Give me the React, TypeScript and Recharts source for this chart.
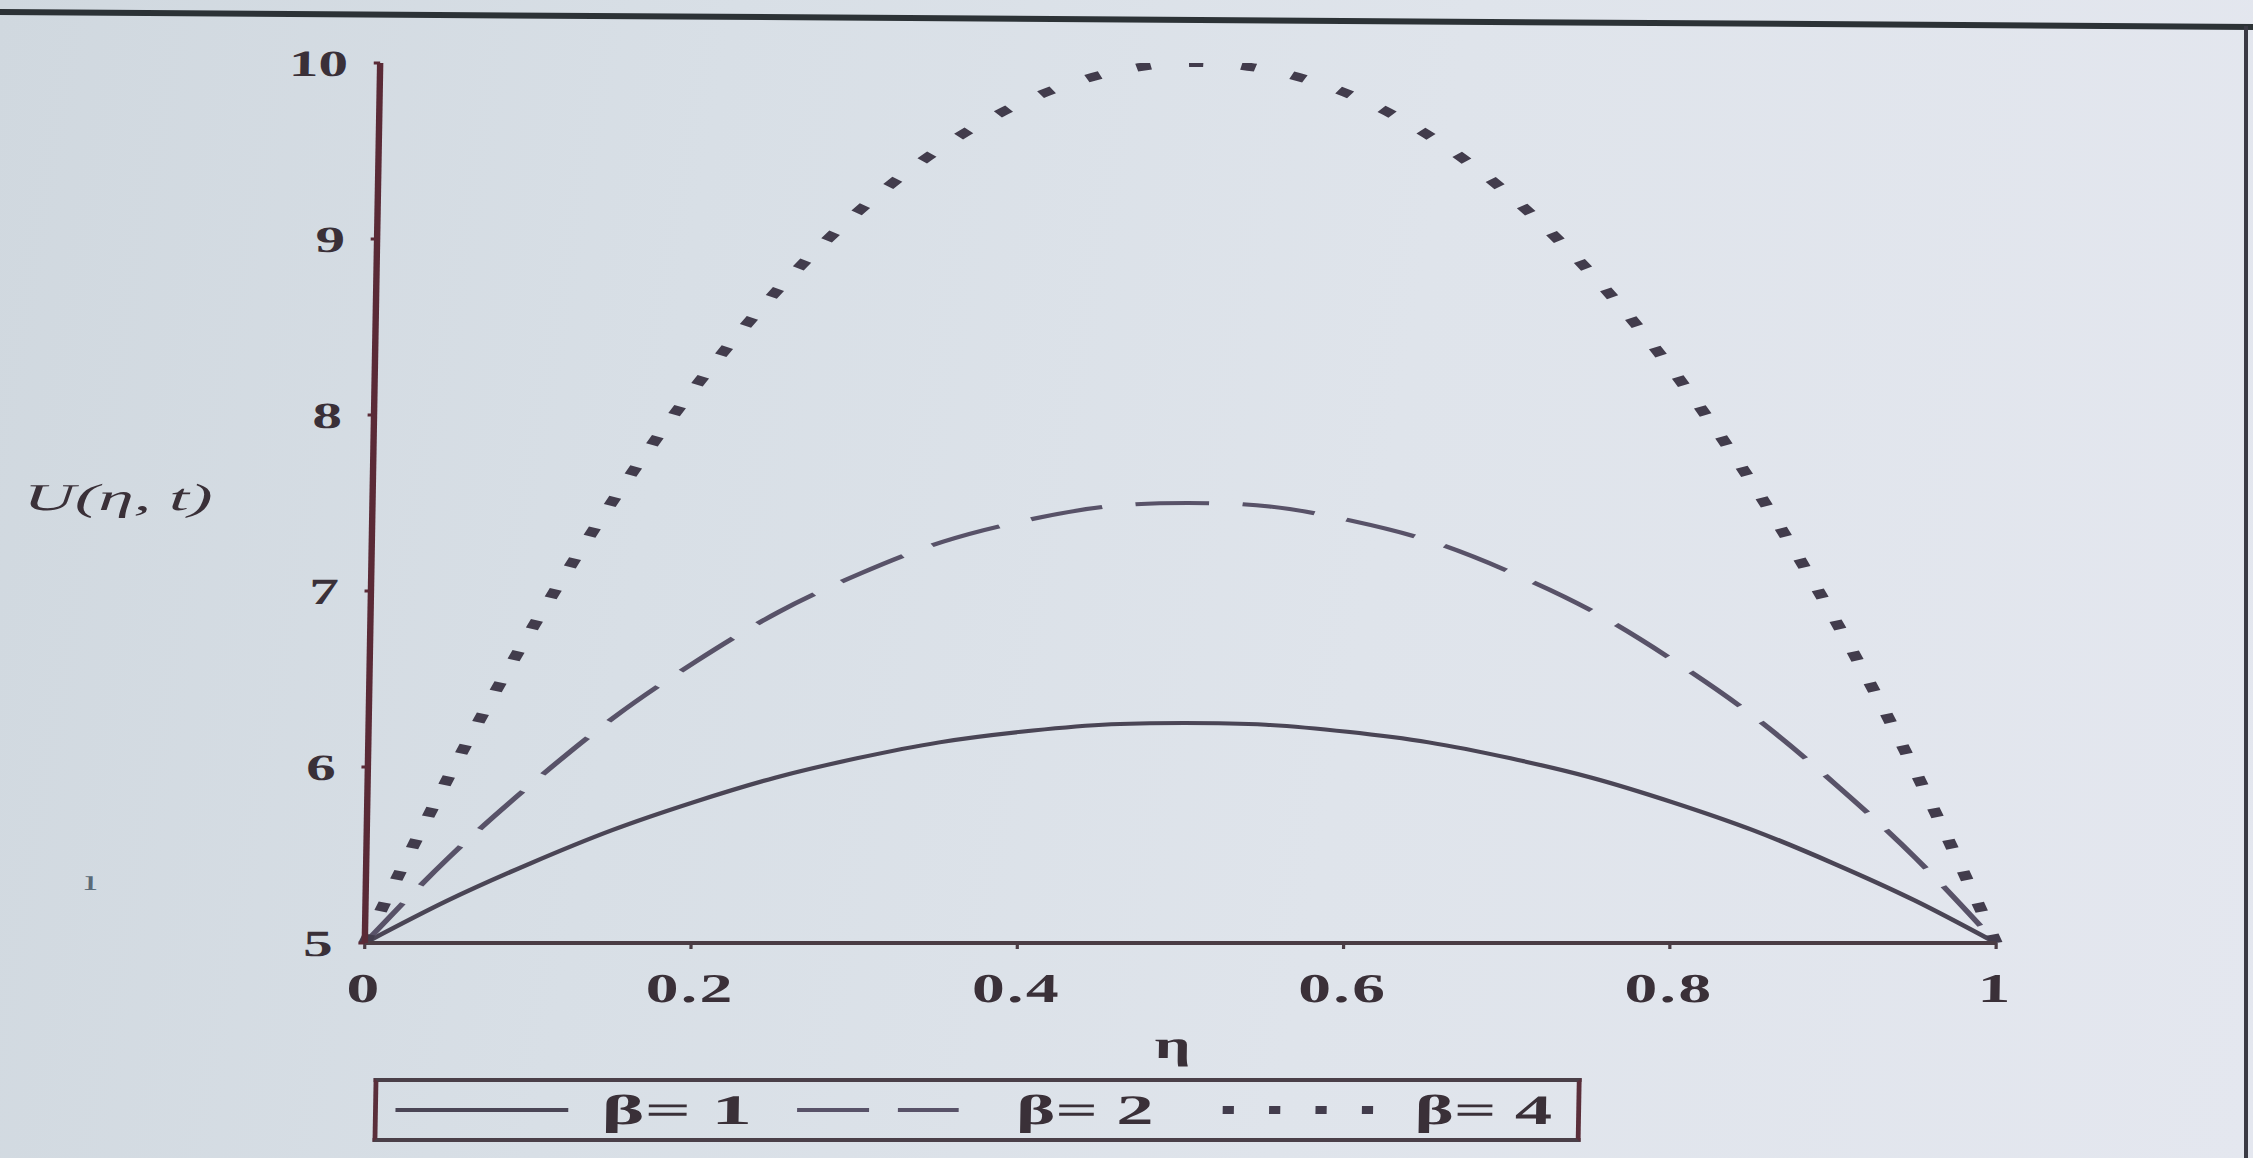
import React from "react";
import { LineChart, Line, XAxis, YAxis } from "recharts";

// ---- data ----
const etaValues = [0, 0.05, 0.1, 0.15, 0.2, 0.25, 0.3, 0.35, 0.4, 0.45, 0.5, 0.55, 0.6, 0.65, 0.7, 0.75, 0.8, 0.85, 0.9, 0.95, 1];
const beta1 = [5, 5.24, 5.45, 5.64, 5.8, 5.94, 6.05, 6.14, 6.2, 6.24, 6.25, 6.24, 6.2, 6.14, 6.05, 5.94, 5.8, 5.64, 5.45, 5.24, 5];
const beta2 = [5, 5.48, 5.9, 6.28, 6.6, 6.88, 7.1, 7.28, 7.4, 7.48, 7.5, 7.48, 7.4, 7.28, 7.1, 6.88, 6.6, 6.28, 5.9, 5.48, 5];
const beta4 = [5, 5.95, 6.8, 7.55, 8.2, 8.75, 9.2, 9.55, 9.8, 9.95, 10, 9.95, 9.8, 9.55, 9.2, 8.75, 8.2, 7.55, 6.8, 5.95, 5];
const seriesNames = ["β= 1", "β= 2", "β= 4"];
const xTickValues = [0, 0.2, 0.4, 0.6, 0.8, 1];
const xTickLabels = ["0", "0.2", "0.4", "0.6", "0.8", "1"];
const yTickValues = [5, 6, 7, 8, 9, 10];
const yTickLabels = ["5", "6", "7", "8", "9", "10"];
const xAxisTitle = "η";
const yAxisTitle = "U(η, t)";

const data = etaValues.map((eta, i) => ({ eta, b1: beta1[i], b2: beta2[i], b4: beta4[i] }));

// The photographed figure is stretched horizontally; the chart is drawn in a
// narrower box and scaled by STRETCH so glyphs and dash spacing match.
const STRETCH = 1.6;
const W = 2253 / STRETCH;
const H = 1158;

const FONT = "'Liberation Serif', 'DejaVu Serif', serif";
const TEXT = "#3a3038";
const LINE1 = "#4a4555";
const LINE2 = "#585268";
const LINE4 = "#423c4c";

const XTick = (props: any) => {
  const { x, y, payload } = props;
  const idx = xTickValues.indexOf(payload.value);
  const label = idx >= 0 ? xTickLabels[idx] : String(payload.value);
  return (
    <text x={x} y={y} dy="0.71em" textAnchor="middle" fontFamily={FONT} fontWeight="bold" fontSize={41} letterSpacing={1.5} fill={TEXT}>
      {label}
    </text>
  );
};

const YTick = (props: any) => {
  const { x, y, payload } = props;
  const idx = yTickValues.indexOf(payload.value);
  const label = idx >= 0 ? yTickLabels[idx] : String(payload.value);
  return (
    <text x={x} y={y} dy="0.35em" textAnchor="end" fontFamily={FONT} fontWeight="bold" fontSize={37} fill={TEXT}>
      {label}
    </text>
  );
};

const legendLayout = [
  { x1: 14, x2: 122, dash: undefined as string | undefined, sw: 4, color: LINE1, tx: 143, tw: 94 },
  { x1: 265, x2: 366, dash: "45 18", sw: 4, color: LINE2, tx: 402, tw: 86 },
  { x1: 531, x2: 630, dash: "7 22", sw: 8, color: LINE4, tx: 651, tw: 86 },
];

const LegendBox = () => (
  <div
    style={{
      position: "absolute",
      left: 235,
      top: 1078,
      width: 755,
      height: 64,
      boxSizing: "border-box",
      borderTop: "4px solid #4a3f48",
      borderBottom: "4px solid #4a3f48",
      borderLeft: "3px solid #5a2e3a",
      borderRight: "3px solid #5a2e3a",
    }}
  >
    <svg width={755} height={64} style={{ position: "absolute", left: -3, top: -4 }}>
      {seriesNames.map((name, i) => {
        const l = legendLayout[i];
        return (
          <g key={name}>
            <line x1={l.x1} x2={l.x2} y1={32} y2={32} stroke={l.color} strokeWidth={l.sw} strokeDasharray={l.dash} />
            <text
              x={l.tx}
              y={46}
              textLength={l.tw}
              lengthAdjust="spacingAndGlyphs"
              fontFamily={FONT}
              fontWeight="bold"
              fontSize={42}
              fill={TEXT}
            >
              {name}
            </text>
          </g>
        );
      })}
    </svg>
  </div>
);

export default function App() {
  return (
    <div
      style={{
        position: "fixed",
        left: 0,
        top: 0,
        width: 2253,
        height: 1158,
        overflow: "hidden",
        background:
          "linear-gradient(100deg, #d0d8df 0%, #d8dfe6 30%, #dfe4eb 60%, #e4e7ef 100%)",
      }}
    >
      <svg width={2253} height={1158} style={{ position: "absolute", left: 0, top: 0 }}>
        <line x1={0} y1={12} x2={2253} y2={27} stroke="#2c3236" strokeWidth={6} />
        <line x1={2246} y1={26} x2={2246} y2={1158} stroke="#3a3a44" strokeWidth={4} />
      </svg>
      {/* slight tilt of the photographed page */}
      <div
        style={{
          position: "absolute",
          left: 0,
          top: 0,
          width: 2253,
          height: 1158,
          transformOrigin: "365px 943px",
          transform: "skewX(-1deg)",
        }}
      >
        <div
          style={{
            position: "absolute",
            left: 0,
            top: 0,
            width: W,
            height: H,
            transformOrigin: "0 0",
            transform: `scale(${STRETCH},1)`,
          }}
        >
          <svg width={W} height={H} style={{ position: "absolute", left: 0, top: 0 }}>
            <text x={56} y={890} fontFamily={FONT} fontSize={30} fill="#5a6a78" textAnchor="middle">
              ı
            </text>
            <text
              x={69}
              y={510}
              textAnchor="middle"
              textLength={118}
              lengthAdjust="spacingAndGlyphs"
              fontFamily={FONT}
              fontStyle="italic"
              fontSize={38}
              fill={TEXT}
            >
              {yAxisTitle}
            </text>
            <text x={734} y={1058} textAnchor="middle" fontFamily={FONT} fontSize={40} fontWeight="bold" fill={TEXT}>
              {xAxisTitle}
            </text>
          </svg>
          <div style={{ position: "absolute", left: 0, top: 0 }}>
            <LineChart width={W} height={H} data={data} margin={{ top: 63, right: 160.5, left: 188, bottom: 155 }}>
              <XAxis
                dataKey="eta"
                type="number"
                domain={[0, 1]}
                ticks={xTickValues}
                tick={<XTick />}
                tickSize={6}
                tickMargin={24}
                height={60}
                stroke="#4a3c44"
                strokeWidth={4}
                tickLine={{ stroke: "#4a3c44", strokeWidth: 2 }}
              />
              <YAxis
                type="number"
                domain={[5, 10]}
                ticks={yTickValues}
                tick={<YTick />}
                tickSize={4}
                tickMargin={16}
                width={40}
                stroke="#5a2a36"
                strokeWidth={4}
                tickLine={{ stroke: "#5a2a36", strokeWidth: 3 }}
                allowDataOverflow
              />
              <Line
                name={seriesNames[0]}
                dataKey="b1"
                type="natural"
                stroke={LINE1}
                strokeWidth={4}
                dot={false}
                activeDot={false}
                isAnimationActive={false}
              />
              <Line
                name={seriesNames[1]}
                dataKey="b2"
                type="natural"
                stroke={LINE2}
                strokeWidth={4}
                strokeDasharray="46 21"
                dot={false}
                activeDot={false}
                isAnimationActive={false}
              />
              <Line
                name={seriesNames[2]}
                dataKey="b4"
                type="natural"
                stroke={LINE4}
                strokeWidth={8}
                strokeDasharray="9 24"
                dot={false}
                activeDot={false}
                isAnimationActive={false}
              />
            </LineChart>
          </div>
          <LegendBox />
        </div>
      </div>
    </div>
  );
}
